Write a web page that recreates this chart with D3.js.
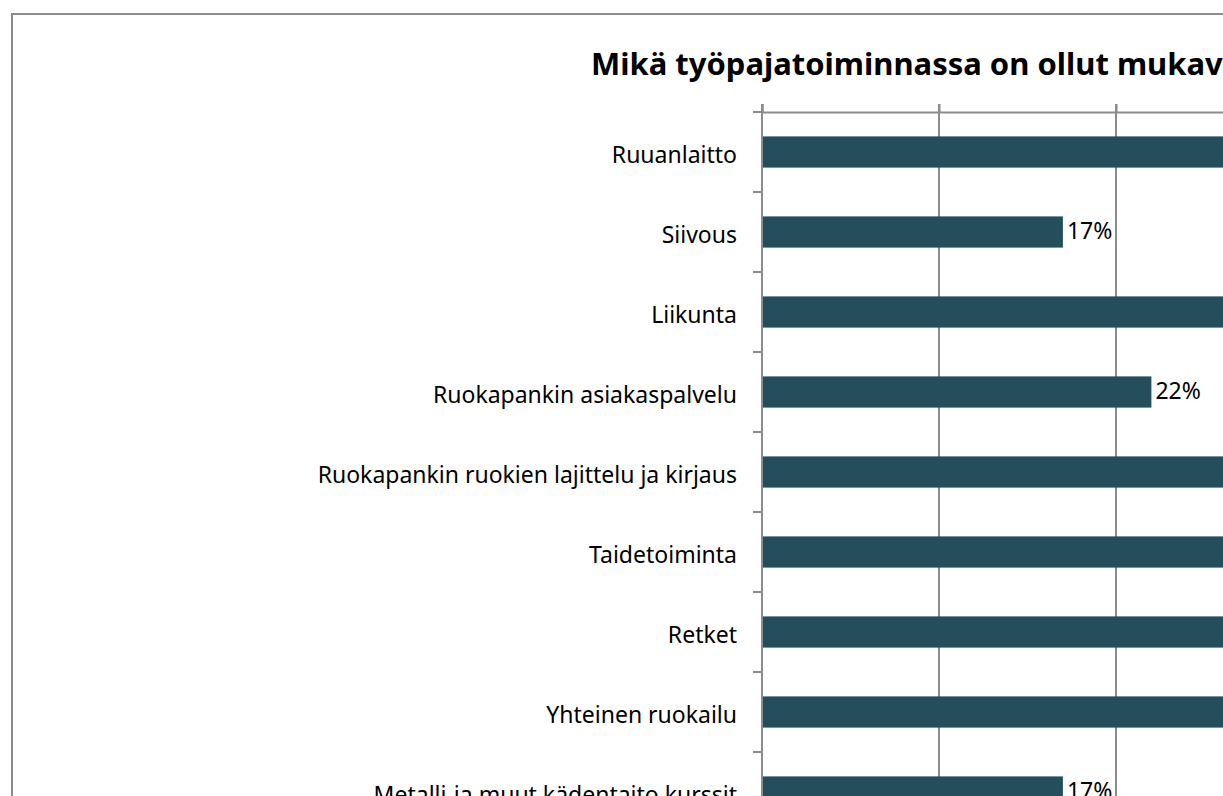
<!DOCTYPE html>
<html>
<head>
<meta charset="utf-8">
<script src="https://cdn.jsdelivr.net/npm/d3@7"></script>
<style>
  html, body { margin: 0; padding: 0; background: #fff; overflow: hidden; }
  svg { display: block; }
</style>
</head>
<body>
<svg id="chart" width="1223" height="796"></svg>
<script>
const title = "Mikä työpajatoiminnassa on ollut mukavinta?";
const categories = [
  "Ruuanlaitto",
  "Siivous",
  "Liikunta",
  "Ruokapankin asiakaspalvelu",
  "Ruokapankin ruokien lajittelu ja kirjaus",
  "Taidetoiminta",
  "Retket",
  "Yhteinen ruokailu",
  "Metalli-ja muut kädentaito kurssit"
];
// values beyond the visible crop are estimates (bars run past the image edge)
const values = [0.61, 0.17, 0.44, 0.22, 0.39, 0.33, 0.39, 0.50, 0.17];
const tickValues = [0, 0.1, 0.2, 0.3, 0.4, 0.5, 0.6, 0.7];

const svg = d3.select("#chart");
const FONT = "'Noto Sans', 'Open Sans', sans-serif";
const barColor = "#244e5b";
const gridColor = "#8c8c8c";

svg.append("rect")
  .attr("x", 12).attr("y", 14)
  .attr("width", 1600).attr("height", 1200)
  .attr("fill", "#fff")
  .attr("stroke", gridColor).attr("stroke-width", 2);

const plotLeft = 762, plotTop = 112;
const x = d3.scaleLinear().domain([0, 0.7]).range([plotLeft, plotLeft + 1239]);
const y = d3.scaleBand().domain(categories).range([plotTop, plotTop + 80 * categories.length]).paddingInner(0.61).paddingOuter(0.305);

// title: fit so that the visible part ends at the image edge as in the reference
const titleText = svg.append("text")
  .attr("x", 591).attr("y", 75)
  .attr("font-family", FONT).attr("font-weight", "bold")
  .attr("font-size", 25).attr("fill", "#000")
  .text("Mikä työpajatoiminnassa on ollut mukav");
const w0 = titleText.node().getComputedTextLength();
titleText.attr("font-size", 25 * 632 / w0).text(title);

// vertical gridlines
svg.append("g").selectAll("line").data(tickValues.slice(1)).join("line")
  .attr("x1", d => x(d)).attr("x2", d => x(d))
  .attr("y1", plotTop - 8).attr("y2", plotTop + 80 * categories.length)
  .attr("stroke", gridColor).attr("stroke-width", 2);

// value axis at top (no labels)
const xAxis = d3.axisTop(x).tickValues(tickValues).tickSize(8).tickFormat("");
const gx = svg.append("g").attr("transform", `translate(0,${plotTop})`).call(xAxis);
gx.select(".domain").attr("stroke", gridColor).attr("stroke-width", 2);
gx.selectAll(".tick line").attr("stroke", gridColor).attr("stroke-width", 2);

// bars
svg.append("g").selectAll("rect").data(categories).join("rect")
  .attr("x", x(0))
  .attr("y", d => y(d))
  .attr("width", (d, i) => x(values[i]) - x(0))
  .attr("height", y.bandwidth())
  .attr("fill", barColor);

// category axis
const bounds = d3.range(categories.length + 1).map(i => plotTop + 80 * i);
svg.append("g").selectAll("line").data(bounds).join("line")
  .attr("x1", plotLeft - 9).attr("x2", plotLeft)
  .attr("y1", d => d).attr("y2", d => d)
  .attr("stroke", gridColor).attr("stroke-width", 2);
svg.append("line")
  .attr("x1", plotLeft).attr("x2", plotLeft)
  .attr("y1", plotTop - 8).attr("y2", plotTop + 80 * categories.length)
  .attr("stroke", gridColor).attr("stroke-width", 2);

svg.append("g").selectAll("text").data(categories).join("text")
  .attr("x", plotLeft - 25)
  .attr("y", d => y(d) + y.bandwidth() / 2 + 2)
  .attr("dominant-baseline", "central")
  .attr("text-anchor", "end")
  .attr("font-family", FONT).attr("font-size", 23).attr("fill", "#000")
  .text(d => d);

// value labels
svg.append("g").selectAll("text").data(categories).join("text")
  .attr("x", (d, i) => x(values[i]) + 4)
  .attr("y", d => y(d) + y.bandwidth() / 2 - 2)
  .attr("dominant-baseline", "central")
  .attr("font-family", FONT).attr("font-size", 23).attr("fill", "#000")
  .text((d, i) => Math.round(values[i] * 100) + "%");
</script>
</body>
</html>
